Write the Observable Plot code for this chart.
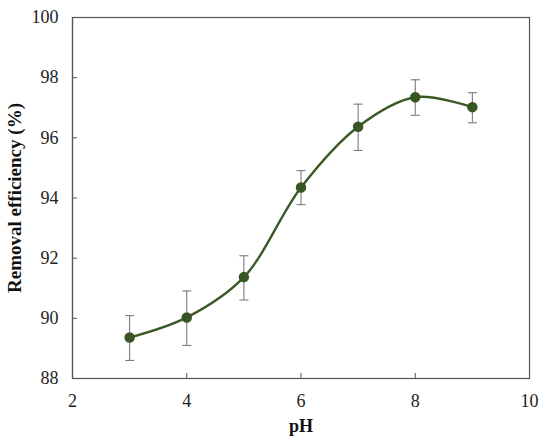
<!DOCTYPE html>
<html>
<head>
<meta charset="utf-8">
<script src="https://cdn.jsdelivr.net/npm/d3@7"></script>
<script src="https://cdn.jsdelivr.net/npm/@observablehq/plot@0.6"></script>
<style>
  html, body { margin: 0; padding: 0; background: #fff; }
  svg text { font-family: "Liberation Serif", "Times New Roman", serif !important; font-variant: normal !important; }
</style>
</head>
<body>
<div id="chart"></div>
<script>
const pH = [3, 4, 5, 6, 7, 8, 9];
const efficiency = [89.36, 90.03, 91.37, 94.35, 96.37, 97.35, 97.02];
const errLow = [88.60, 89.10, 90.61, 93.78, 95.58, 96.75, 96.50];
const errHigh = [90.09, 90.91, 92.08, 94.91, 97.12, 97.93, 97.50];
const xTicks = [2, 4, 6, 8, 10];
const yTicks = [88, 90, 92, 94, 96, 98, 100];

const data = pH.map((x, i) => ({x, y: efficiency[i], lo: errLow[i], hi: errHigh[i]}));

const capSymbol = {
  draw(context, size) {
    const w = 4.5;
    context.moveTo(-w, 0);
    context.lineTo(w, 0);
  }
};

const green = "#3b5a26";
const font = "'Liberation Serif', 'Times New Roman', serif";

const chart = Plot.plot({
  width: 550,
  height: 445,
  marginLeft: 72,
  marginTop: 17,
  marginRight: 21,
  marginBottom: 67,
  style: {fontFamily: font, fontSize: "18px", color: "#222", background: "#fff"},
  x: {domain: [2, 10]},
  y: {domain: [88, 100]},
  marks: [
    Plot.frame({stroke: "#555", strokeWidth: 1.2}),
    Plot.axisX({ticks: xTicks, tickSize: -5, tickPadding: 21, stroke: "#555", label: null, fontSize: 18, fill: "#222"}),
    Plot.axisY({ticks: yTicks, tickSize: -5, tickPadding: 19, stroke: "#555", label: null, fontSize: 18, fill: "#222"}),
    Plot.ruleY([88], {stroke: "#555", strokeWidth: 1.2}),
    Plot.ruleX([2], {stroke: "#555", strokeWidth: 1.2}),
    Plot.ruleX(data, {x: "x", y1: "lo", y2: "hi", stroke: "#7a7a7a", strokeWidth: 1.1}),
    Plot.dot(data, {x: "x", y: "lo", symbol: capSymbol, stroke: "#7a7a7a", strokeWidth: 1.1, r: 4}),
    Plot.dot(data, {x: "x", y: "hi", symbol: capSymbol, stroke: "#7a7a7a", strokeWidth: 1.1, r: 4}),
    Plot.line(data, {x: "x", y: "y", curve: "catmull-rom", stroke: green, strokeWidth: 2.4}),
    Plot.dot(data, {x: "x", y: "y", r: 4.5, fill: "#375623", stroke: "#375623"}),
    Plot.text(["pH"], {frameAnchor: "bottom", dy: 53, text: d => d, fontWeight: "bold", fontSize: 18, fill: "#111"}),
    Plot.text(["Removal efficiency (%)"], {frameAnchor: "left", textAnchor: "middle", dx: -58, rotate: -90, text: d => d, fontWeight: "bold", fontSize: 19, fill: "#111"})
  ]
});

document.getElementById("chart").appendChild(chart);
</script>
</body>
</html>
